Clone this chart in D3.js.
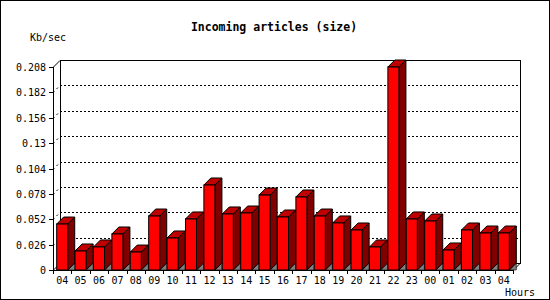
<!DOCTYPE html>
<html>
<head>
<meta charset="utf-8">
<title>Incoming articles (size)</title>
<style>
  body { margin: 0; background: #fff; }
  text { font-family: "DejaVu Sans Mono", monospace; fill: #000; }
  .grid { stroke: #000; stroke-width: 1; stroke-dasharray: 2,2; shape-rendering: crispEdges; }
  .edge { stroke: #000; stroke-width: 1; fill: none; shape-rendering: crispEdges; }
</style>
</head>
<body>
<script src="https://cdnjs.cloudflare.com/ajax/libs/d3/7.8.5/d3.min.js"></script>
<script>

var width = 550,
    height = 300;

// hours along the x axis and the Kb/sec value of each
var hours = ["04","05","06","07","08","09","10","11","12","13","14","15","16",
             "17","18","19","20","21","22","23","00","01","02","03","04"];
var kbsec = [0.0471, 0.0195, 0.0236, 0.0369, 0.0184, 0.0553, 0.0328, 0.0523, 0.0871,
             0.0574, 0.0584, 0.0768, 0.0543, 0.0748, 0.0553, 0.0482, 0.0410, 0.0236,
             0.2080, 0.0523, 0.0502, 0.0205, 0.0410, 0.0379, 0.0379];
var yTicks = [0, 0.026, 0.052, 0.078, 0.104, 0.13, 0.156, 0.182, 0.208];

// note: "top" is reserved on window, so use plot_* names
var plot_left = 53, plot_right = 513, plot_bottom = 270, plot_top = 67;
var depth = 7; // 3d offset of the back wall

var svg = d3.select("body").append("svg")
    .attr("width", width)
    .attr("height", height);

// frame
svg.append("rect")
    .attr("x", 0.5).attr("y", 0.5)
    .attr("width", width - 1).attr("height", height - 1)
    .attr("fill", "#fff").attr("stroke", "#000");

var idx = hours.map(function(d, i) { return i; });

var xBand = d3.scaleBand().domain(idx).range([plot_left, plot_right]);
var xBar = d3.scaleBand().domain(idx).range([plot_left, plot_right])
    .paddingInner(0.4).paddingOuter(0.2);
var y = d3.scaleLinear().domain([0, 0.208]).range([plot_bottom, plot_top]);

// back wall
svg.append("rect")
    .attr("x", plot_left + depth + 0.5).attr("y", plot_top - depth + 0.5)
    .attr("width", plot_right - plot_left).attr("height", plot_bottom - plot_top)
    .attr("fill", "#fff").attr("class", "edge");

// dotted grid lines on the wall, with the diagonal from the front axis
var grid = svg.append("g");
yTicks.slice(1, -1).forEach(function(t) {
  var yy = Math.round(y(t)) + 0.5;
  grid.append("line").attr("class", "grid")
      .attr("x1", plot_left + depth).attr("x2", plot_right + depth)
      .attr("y1", yy - depth).attr("y2", yy - depth);
  grid.append("line").attr("stroke", "#000").attr("stroke-dasharray", "2,3")
      .attr("x1", plot_left).attr("x2", plot_left + depth)
      .attr("y1", yy).attr("y2", yy - depth);
});

// top and bottom diagonals
[0, 0.208].forEach(function(t) {
  var yy = Math.round(y(t)) + 0.5;
  svg.append("line").attr("stroke", "#000")
      .attr("x1", plot_left).attr("x2", plot_left + depth)
      .attr("y1", yy).attr("y2", yy - depth);
});

// floor right edge
svg.append("line").attr("stroke", "#000")
    .attr("x1", plot_right).attr("y1", plot_bottom + 0.5)
    .attr("x2", plot_right + depth).attr("y2", plot_bottom - depth + 0.5);

// bars
var bars = svg.append("g").selectAll("g")
    .data(kbsec)
  .enter().append("g");

var bw = xBar.bandwidth();

bars.append("path")
    .attr("fill", "#808080")
    .attr("stroke", "#000").attr("stroke-width", 0.6)
    .attr("d", function(d, i) {
      var x1 = xBar(i) + bw, y0 = plot_bottom;
      return "M" + x1 + "," + y0 + "L" + (x1 + depth) + "," + (y0 - depth) +
             "L" + (x1 + depth) + "," + y0 + "Z";
    });

bars.append("path")
    .attr("fill", "#800000").attr("stroke", "#000")
    .attr("d", function(d, i) {
      var x1 = xBar(i) + bw, y0 = plot_bottom, yt = y(d);
      return "M" + x1 + "," + y0 + "L" + x1 + "," + yt +
             "L" + (x1 + depth) + "," + (yt - depth) +
             "L" + (x1 + depth) + "," + (y0 - depth) + "Z";
    });

bars.append("path")
    .attr("fill", "#c00000").attr("stroke", "#000")
    .attr("d", function(d, i) {
      var x0 = xBar(i), yt = y(d);
      return "M" + x0 + "," + yt + "L" + (x0 + bw) + "," + yt +
             "L" + (x0 + bw + depth) + "," + (yt - depth) +
             "L" + (x0 + depth) + "," + (yt - depth) + "Z";
    });

bars.append("rect")
    .attr("fill", "#ff0000").attr("stroke", "#000")
    .attr("x", function(d, i) { return xBar(i); })
    .attr("y", function(d) { return y(d); })
    .attr("width", bw)
    .attr("height", function(d) { return plot_bottom - y(d); });

// front axes
svg.append("line").attr("class", "edge")
    .attr("x1", plot_left + 0.5).attr("x2", plot_left + 0.5)
    .attr("y1", plot_top).attr("y2", plot_bottom);
svg.append("line").attr("class", "edge")
    .attr("x1", plot_left).attr("x2", plot_right)
    .attr("y1", plot_bottom + 0.5).attr("y2", plot_bottom + 0.5);

// y ticks and labels
var yAxis = svg.append("g");
yTicks.forEach(function(t) {
  var yy = Math.round(y(t)) + 0.5;
  yAxis.append("line").attr("class", "edge")
      .attr("x1", plot_left - 4).attr("x2", plot_left).attr("y1", yy).attr("y2", yy);
  yAxis.append("text")
      .attr("x", 46).attr("y", yy + 3.5)
      .attr("text-anchor", "end")
      .style("font-size", "10px")
      .text(t === 0 ? "0" : String(t));
});

// x ticks and labels
var xAxis = svg.append("g");
hours.forEach(function(h, i) {
  var xx = Math.round(xBand(i)) + 0.5;
  xAxis.append("line").attr("class", "edge")
      .attr("x1", xx).attr("x2", xx).attr("y1", plot_bottom).attr("y2", plot_bottom + 4);
  xAxis.append("text")
      .attr("x", xBand(i) + xBand.bandwidth() / 2)
      .attr("y", 283.5)
      .attr("text-anchor", "middle")
      .style("font-size", "10px")
      .text(h);
});
xAxis.append("line").attr("class", "edge")
    .attr("x1", plot_right + 0.5).attr("x2", plot_right + 0.5)
    .attr("y1", plot_bottom).attr("y2", plot_bottom + 4);

// titles
svg.append("text")
    .attr("x", 274).attr("y", 31)
    .attr("text-anchor", "middle")
    .style("font-size", "11.5px").style("font-weight", "bold")
    .text("Incoming articles (size)");

svg.append("text")
    .attr("x", 30).attr("y", 40.5)
    .style("font-size", "10px")
    .text("Kb/sec");

svg.append("text")
    .attr("x", 505).attr("y", 295.5)
    .style("font-size", "10px")
    .text("Hours");

</script>
</body>
</html>
